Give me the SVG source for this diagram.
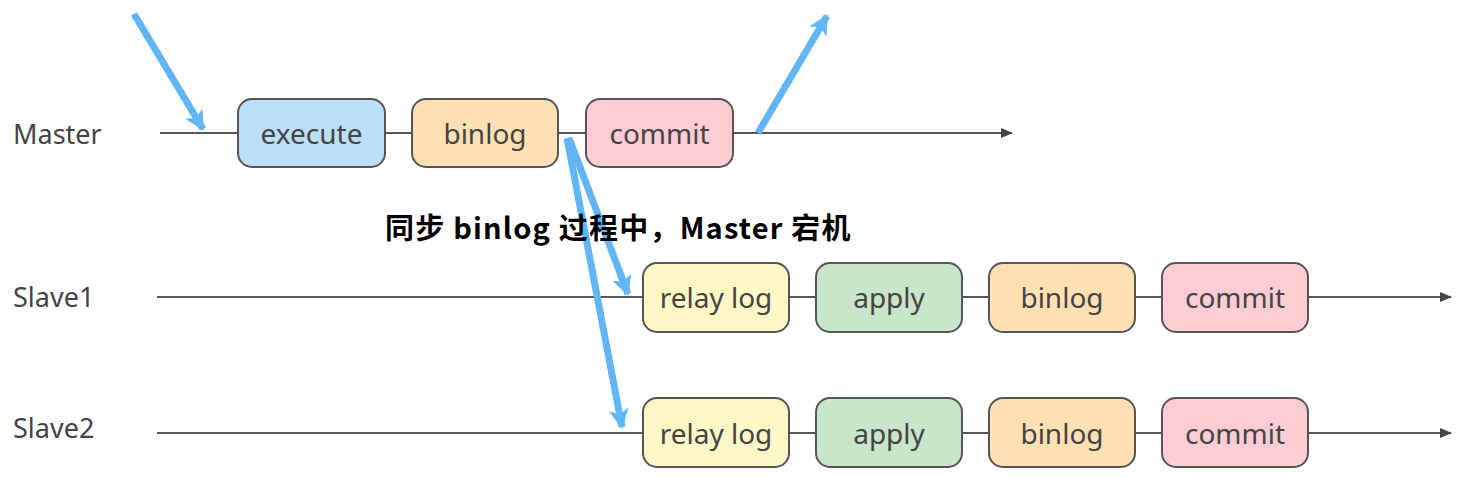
<svg xmlns="http://www.w3.org/2000/svg" width="1469" height="477" viewBox="0 0 1469 477">
<style>
.lbl{font-family:"Noto Sans","Open Sans",sans-serif;font-size:27px;fill:#444}
.box{stroke:#555;stroke-width:2}
.bt{font-family:"Noto Sans","Open Sans",sans-serif;font-size:28px;fill:#444;text-anchor:middle;dominant-baseline:central}
.tl{stroke:#555;stroke-width:2;fill:none}
.blue{stroke:#62b6f6;stroke-width:7;fill:none}
</style>
<defs>
<marker id="ah" markerWidth="12" markerHeight="12" refX="11" refY="6" orient="auto" markerUnits="userSpaceOnUse"><path d="M0,1 L12,6 L0,11 Z" fill="#444"/></marker>
<marker id="bh" markerWidth="22" markerHeight="22" refX="18" refY="10" orient="auto" markerUnits="userSpaceOnUse"><path d="M0,0 L20,10 L0,20 L5,10 Z" fill="#62b6f6"/></marker>
</defs>
<rect width="1469" height="477" fill="#fff"/>
<g id="labels">
<text class="lbl" x="13" y="144">Master</text>
<text class="lbl" x="13" y="307">Slave1</text>
<text class="lbl" x="13" y="438">Slave2</text>
</g>
<g id="connectors">
<line class="tl" x1="160" y1="133" x2="1012" y2="133" marker-end="url(#ah)"/>
<line class="tl" x1="157" y1="297" x2="1451" y2="297" marker-end="url(#ah)"/>
<line class="tl" x1="157" y1="433" x2="1451" y2="433" marker-end="url(#ah)"/>
<line class="blue" x1="134" y1="14" x2="203" y2="129" marker-end="url(#bh)"/>
<line class="blue" x1="758" y1="133" x2="827" y2="16" marker-end="url(#bh)"/>
<line class="blue" x1="569" y1="138" x2="628" y2="294" marker-end="url(#bh)"/>
<line class="blue" x1="567" y1="138" x2="622" y2="427" marker-end="url(#bh)"/>
</g>
<g id="master-execute"><rect class="box" x="238" y="99" width="147" height="68" rx="14" fill="#bcdff8"/><text class="bt" x="311.5" y="133">execute</text></g>
<g id="master-binlog"><rect class="box" x="412" y="99" width="146" height="68" rx="14" fill="#fee0b3"/><text class="bt" x="485" y="133">binlog</text></g>
<g id="master-commit"><rect class="box" x="586" y="99" width="147" height="68" rx="14" fill="#fecdd3"/><text class="bt" x="659.5" y="133">commit</text></g>
<g id="s1-relay"><rect class="box" x="643" y="263" width="146" height="69" rx="14" fill="#fef8c6"/><text class="bt" x="716" y="297">relay log</text></g>
<g id="s1-apply"><rect class="box" x="816" y="263" width="146" height="69" rx="14" fill="#c8e6c9"/><text class="bt" x="889" y="297">apply</text></g>
<g id="s1-binlog"><rect class="box" x="989" y="263" width="146" height="69" rx="14" fill="#fee0b3"/><text class="bt" x="1062" y="297">binlog</text></g>
<g id="s1-commit"><rect class="box" x="1162" y="263" width="146" height="69" rx="14" fill="#fecdd3"/><text class="bt" x="1235" y="297">commit</text></g>
<g id="s2-relay"><rect class="box" x="643" y="398" width="146" height="69" rx="14" fill="#fef8c6"/><text class="bt" x="716" y="433">relay log</text></g>
<g id="s2-apply"><rect class="box" x="816" y="398" width="146" height="69" rx="14" fill="#c8e6c9"/><text class="bt" x="889" y="433">apply</text></g>
<g id="s2-binlog"><rect class="box" x="989" y="398" width="146" height="69" rx="14" fill="#fee0b3"/><text class="bt" x="1062" y="433">binlog</text></g>
<g id="s2-commit"><rect class="box" x="1162" y="398" width="146" height="69" rx="14" fill="#fecdd3"/><text class="bt" x="1235" y="433">commit</text></g>
<g id="note"><text x="385" y="239" font-family="'Noto Sans CJK SC',sans-serif" font-weight="bold" font-size="29" letter-spacing="1.2" fill="#000">同步 binlog 过程中，Master 宕机</text></g>
</svg>
